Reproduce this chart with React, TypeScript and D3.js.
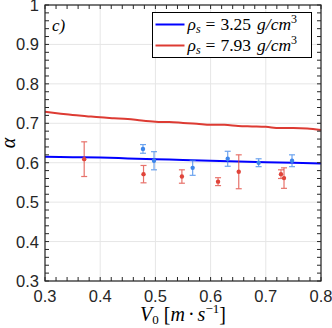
import React from 'react';
import * as d3 from 'd3';

// model curves
const lineV = [0.3, 0.35, 0.4, 0.45, 0.5, 0.55, 0.6, 0.65, 0.7, 0.75, 0.8];
const blueLine = [0.615, 0.614, 0.613, 0.611, 0.609, 0.607, 0.605, 0.603, 0.601, 0.6, 0.598];
const redLineV = [0.3, 0.325, 0.35, 0.375, 0.4, 0.425, 0.45, 0.475, 0.5, 0.525, 0.55, 0.575, 0.6, 0.625, 0.65, 0.675, 0.7, 0.725, 0.75, 0.775, 0.8];
const redLine = [0.729, 0.725, 0.721, 0.718, 0.715, 0.713, 0.711, 0.707, 0.704, 0.703, 0.701, 0.699, 0.696, 0.696, 0.693, 0.692, 0.691, 0.688, 0.688, 0.687, 0.683];

// measurements
const blueV = [0.4775, 0.4975, 0.5675, 0.631, 0.687, 0.7475];
const blueA = [0.635, 0.605, 0.587, 0.61, 0.6, 0.605];
const blueErr = [0.011, 0.023, 0.019, 0.019, 0.01, 0.015];
const redV = [0.371, 0.4785, 0.548, 0.6135, 0.651, 0.7275, 0.733];
const redA = [0.609, 0.571, 0.565, 0.552, 0.577, 0.571, 0.561];
const redErr = [0.044, 0.022, 0.017, 0.01, 0.043, 0.011, 0.026];

const xTicks = [0.3, 0.4, 0.5, 0.6, 0.7, 0.8];
const yTicks = [0.3, 0.4, 0.5, 0.6, 0.7, 0.8, 0.9, 1];
const xTickLabels = ['0.3', '0.4', '0.5', '0.6', '0.7', '0.8'];
const yTickLabels = ['0.3', '0.4', '0.5', '0.6', '0.7', '0.8', '0.9', '1'];
const legendValues = ['3.25', '7.93'];

const W = 332, H = 328;
const margin = { top: 5, right: 11, bottom: 47, left: 45 };
const iw = W - margin.left - margin.right;
const ih = H - margin.top - margin.bottom;

const axisColor = '#262626';
const serif = '"Liberation Serif", "DejaVu Serif", serif';
const sans = '"Liberation Sans", Arial, sans-serif';

export default function App() {
  const x = d3.scaleLinear().domain([0.3, 0.8]).range([0, iw]);
  const y = d3.scaleLinear().domain([0.3, 1]).range([ih, 0]);
  const line = d3.line<[number, number]>().x(d => x(d[0])).y(d => y(d[1])).curve(d3.curveMonotoneX);

  const xMinor = d3.range(0.3, 0.8001, 0.02);
  const yMinor = d3.range(0.3, 1.0001, 0.02);
  const tl = 4;

  const errBars = (vs: number[], as: number[], es: number[], col: string) =>
    vs.map((v, i) => {
      const cx = x(v);
      const y1 = y(as[i] + es[i]);
      const y2 = y(as[i] - es[i]);
      return (
        <g key={i}>
          <g stroke={col} strokeWidth={1.2} opacity={0.75}>
            <line x1={cx} x2={cx} y1={y1} y2={y2} />
            <line x1={cx - 3} x2={cx + 3} y1={y1} y2={y1} />
            <line x1={cx - 3} x2={cx + 3} y1={y2} y2={y2} />
          </g>
          <circle cx={cx} cy={y(as[i])} r={2.2} fill={col} />
        </g>
      );
    });

  return (
    <svg width={W} height={H} style={{ position: 'absolute', left: 0, top: 0, background: '#fff' }}>
      <g transform={`translate(${margin.left},${margin.top})`}>
        {/* grid */}
        {xTicks.map(t => (
          <line key={'gx' + t} x1={x(t)} x2={x(t)} y1={0} y2={ih} stroke="#e6e6e6" strokeWidth={1} />
        ))}
        {yTicks.map(t => (
          <line key={'gy' + t} x1={0} x2={iw} y1={y(t)} y2={y(t)} stroke="#e6e6e6" strokeWidth={1} />
        ))}

        {/* curves */}
        <path d={line(redLineV.map((v, i) => [v, redLine[i]]) as [number, number][]) || ''} fill="none" stroke="#dd3b33" strokeWidth={2} />
        <path d={line(lineV.map((v, i) => [v, blueLine[i]]) as [number, number][]) || ''} fill="none" stroke="#0000ff" strokeWidth={2} />

        {errBars(redV, redA, redErr, '#e0443a')}
        {errBars(blueV, blueA, blueErr, '#3d86ea')}

        {/* ticks */}
        <g stroke={axisColor} strokeWidth={1}>
          {xMinor.map((t, i) => (
            <g key={'xm' + i}>
              <line x1={x(t)} x2={x(t)} y1={ih} y2={ih - tl} />
              <line x1={x(t)} x2={x(t)} y1={0} y2={tl} />
            </g>
          ))}
          {yMinor.map((t, i) => (
            <g key={'ym' + i}>
              <line x1={0} x2={tl} y1={y(t)} y2={y(t)} />
              <line x1={iw} x2={iw - tl} y1={y(t)} y2={y(t)} />
            </g>
          ))}
        </g>
        <rect x={0} y={0} width={iw} height={ih} fill="none" stroke={axisColor} strokeWidth={1.2} />

        {/* tick labels */}
        {xTicks.map((t, i) => (
          <text key={'xl' + t} x={x(t)} y={ih + 21} textAnchor="middle" fontFamily={sans} fontSize={16.5} fill={axisColor}>
            {xTickLabels[i]}
          </text>
        ))}
        {yTicks.map((t, i) => (
          <text key={'yl' + t} x={-6} y={y(t) + 6} textAnchor="end" fontFamily={sans} fontSize={16.5} fill={axisColor}>
            {yTickLabels[i]}
          </text>
        ))}

        {/* panel label */}
        <text x={7} y={26} fontFamily={serif} fontStyle="italic" fontSize={17} fill="#000">c)</text>

        {/* legend */}
        <g transform={`translate(${152.5 - margin.left},${12.5 - margin.top})`}>
          <rect x={0} y={0} width={159} height={45} fill="#fff" stroke="#000" strokeWidth={1} />
          <line x1={3} x2={32} y1={12} y2={12} stroke="#0000ff" strokeWidth={2} />
          <line x1={3} x2={32} y1={33} y2={33} stroke="#dd3b33" strokeWidth={2} />
          {legendValues.map((val, i) => (
            <text key={val} x={35} y={17 + i * 21} fontFamily={serif} fontSize={17.5} fill="#000">
              <tspan fontStyle="italic">ρ</tspan>
              <tspan fontStyle="italic" fontSize={12} dy={3.5}>s</tspan>
              <tspan dy={-3.5} dx={5}>=</tspan>
              <tspan dx={5}>{val}</tspan>
              <tspan fontStyle="italic" dx={6}>g/cm</tspan>
              <tspan fontSize={12} dy={-7}>3</tspan>
            </text>
          ))}
        </g>
      </g>

      {/* axis titles */}
      <text transform={`translate(15,${margin.top + ih / 2}) rotate(-90)`} textAnchor="middle" fontFamily={serif} fontStyle="italic" fontSize={20} fill="#000">α</text>
      <text x={margin.left + iw / 2} y={321} textAnchor="middle" fontFamily={serif} fontSize={20} fill="#000">
        <tspan fontStyle="italic">V</tspan>
        <tspan fontSize={13} dy={3}>0</tspan>
        <tspan dy={-3} dx={5}>[</tspan>
        <tspan fontStyle="italic">m</tspan>
        <tspan dx={3}>·</tspan>
        <tspan fontStyle="italic" dx={3}>s</tspan>
        <tspan fontSize={13} dy={-8}>−1</tspan>
        <tspan dy={8}>]</tspan>
      </text>
    </svg>
  );
}
